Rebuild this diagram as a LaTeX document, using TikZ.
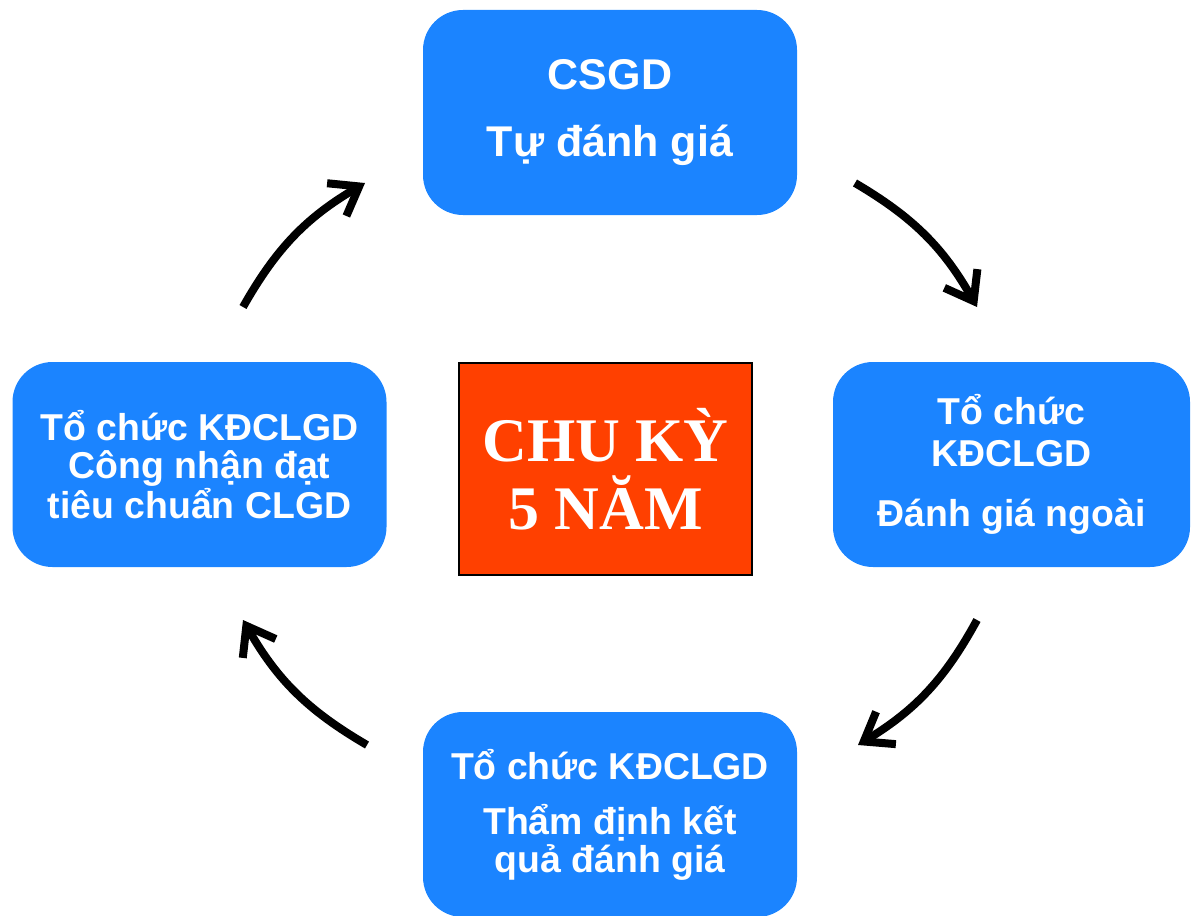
\documentclass[tikz,border=0pt]{standalone}
\usepackage{fontspec}
\setmainfont{Liberation Sans}
\newfontfamily\timesfont{Liberation Serif}
\usetikzlibrary{arrows.meta}
\definecolor{stageblue}{RGB}{27,132,255}
\definecolor{cyclered}{RGB}{255,64,0}

\begin{document}
\begin{tikzpicture}[x=0.5pt,y=-0.5pt,
		stage/.style={fill=stageblue,rounded corners=20pt,text=white,align=center,
			minimum width=187pt,minimum height=102.5pt,inner sep=0pt,
			font=\fontsize{18.7}{19}\selectfont\bfseries},
		cyclebox/.style={fill=cyclered,draw=black,line width=1pt,text=white,align=center,
			minimum width=146.5pt,minimum height=106pt,inner sep=0pt,
			font=\fontsize{31}{34}\selectfont\timesfont\bfseries},
		cyclearrow/.style={line width=4pt,-{Straight Barb[length=13pt,width=19pt]},bend left=15},
	]
	\useasboundingbox (0,0) rectangle (1192,915);

	% four stages of the cycle
	\node[stage,font=\fontsize{21.5}{21}\selectfont\bfseries] (self) at (610,112.5)
		{CSGD\\[12.5pt]Tự đánh giá};
	\node[stage,minimum width=178.5pt] (external) at (1011.5,464.5)
		{Tổ chức\\[2pt]KĐCLGD\\[11pt]Đánh giá ngoài};
	\node[stage] (appraise) at (610,814.5)
		{Tổ chức KĐCLGD\\[8.5pt]Thẩm định kết\\quả đánh giá};
	\node[stage] (recognise) at (199.5,464.5)
		{Tổ chức KĐCLGD\\Công nhận đạt\\tiêu chuẩn CLGD};

	% centre
	\node[cyclebox] (period) at (605.5,469) {CHU KỲ\\5 NĂM};

	% arrows round the cycle
	\coordinate (selfout) at (855,183);
	\coordinate (externalin) at (977,307);
	\coordinate (externalout) at (977,620);
	\coordinate (appraisein) at (858,745);
	\coordinate (appraiseout) at (367,745);
	\coordinate (recognisein) at (243,620);
	\coordinate (recogniseout) at (243,307);
	\coordinate (selfin) at (365,183);
	\draw[cyclearrow] (selfout) to (externalin);
	\draw[cyclearrow] (externalout) to (appraisein);
	\draw[cyclearrow] (appraiseout) to (recognisein);
	\draw[cyclearrow] (recogniseout) to (selfin);
\end{tikzpicture}
\end{document}
